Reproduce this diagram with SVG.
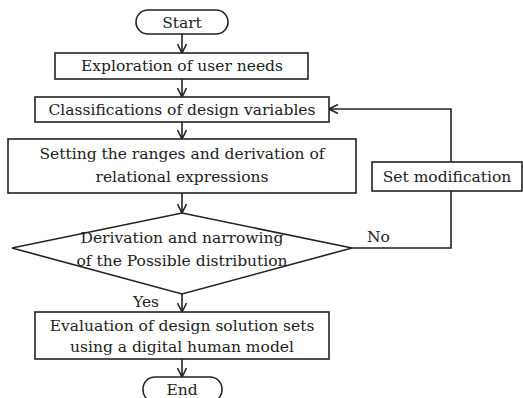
<svg xmlns="http://www.w3.org/2000/svg" width="523" height="398" viewBox="0 0 523 398">
<defs>
<marker id="ah" viewBox="0 0 10 10" refX="10" refY="5" markerWidth="10" markerHeight="10" markerUnits="userSpaceOnUse" orient="auto">
<path d="M1,0.5 L10,5 L1,9.5" fill="none" stroke="#222" stroke-width="1.6"/>
</marker>
<style>
.b{fill:#fff;stroke:#222;stroke-width:1.6}
.t{font-family:"DejaVu Serif","Liberation Serif",serif;font-size:15.5px;fill:#222;text-anchor:middle}
.l{font-family:"DejaVu Serif","Liberation Serif",serif;font-size:15.5px;fill:#222}
.c{fill:none;stroke:#222;stroke-width:1.6}
</style>
</defs>
<rect width="523" height="398" fill="#fff"/>
<g id="connectors">
<line class="c" x1="182" y1="34" x2="182" y2="53" marker-end="url(#ah)"/>
<line class="c" x1="182" y1="79" x2="182" y2="97" marker-end="url(#ah)"/>
<line class="c" x1="182" y1="122" x2="182" y2="139" marker-end="url(#ah)"/>
<line class="c" x1="182" y1="193" x2="182" y2="213" marker-end="url(#ah)"/>
<line class="c" x1="182" y1="294" x2="182" y2="312" marker-end="url(#ah)"/>
<line class="c" x1="182" y1="359" x2="182" y2="377" marker-end="url(#ah)"/>
<polyline class="c" points="352,248 451,248 451,191"/>
<polyline class="c" points="451,162 451,109 329,109" marker-end="url(#ah)"/>
<text class="l" x="367" y="242">No</text>
<text class="l" x="133" y="307">Yes</text>
</g>
<g id="start">
<rect class="b" x="136" y="10" width="92" height="24" rx="12"/>
<text class="t" x="182" y="28">Start</text>
</g>
<g id="explore">
<rect class="b" x="55" y="53" width="253" height="26"/>
<text class="t" x="182" y="71">Exploration of user needs</text>
</g>
<g id="classify">
<rect class="b" x="35" y="97" width="294" height="25"/>
<text class="t" x="182" y="115">Classifications of design variables</text>
</g>
<g id="ranges">
<rect class="b" x="8" y="139" width="348" height="54"/>
<text class="t" x="182" y="159">Setting the ranges and derivation of</text>
<text class="t" x="182" y="182">relational expressions</text>
</g>
<g id="setmod">
<rect class="b" x="372" y="162" width="150" height="29"/>
<text class="t" x="447" y="182">Set modification</text>
</g>
<g id="decision">
<polygon class="b" points="182,213 352,248 182,294 12,248"/>
<text class="t" x="182" y="243">Derivation and narrowing</text>
<text class="t" x="182" y="266">of the Possible distribution</text>
</g>
<g id="evaluate">
<rect class="b" x="35" y="312" width="294" height="47"/>
<text class="t" x="182" y="331">Evaluation of design solution sets</text>
<text class="t" x="182" y="352">using a digital human model</text>
</g>
<g id="end">
<rect class="b" x="143" y="377" width="79" height="25" rx="12"/>
<text class="t" x="182" y="395">End</text>
</g>
</svg>
